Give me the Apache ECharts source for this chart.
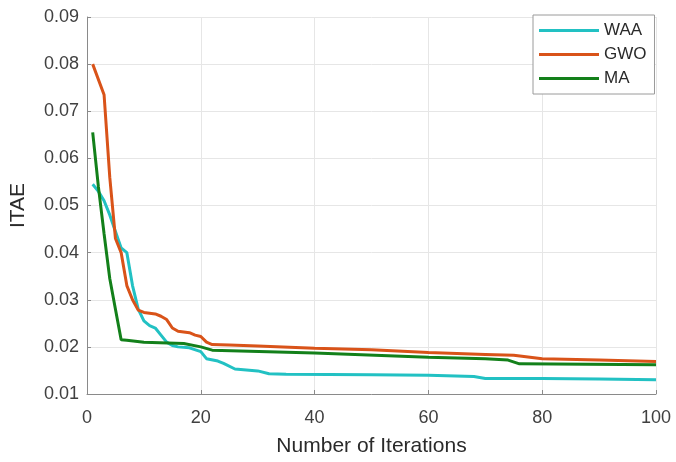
<!DOCTYPE html>
<html>
<head>
<meta charset="utf-8">
<script src="https://cdn.jsdelivr.net/npm/echarts@6/dist/echarts.min.js"></script>
<style>
  html, body { margin: 0; padding: 0; background: #fff; }
  #chart { width: 676px; height: 462px; }
</style>
</head>
<body>
<div id="chart"></div>
<script>
// breakpoints (iteration, ITAE)
const waaIter = [1, 2, 3, 4, 5, 6, 7, 8, 9, 10, 11, 12, 13, 14, 15, 16, 18, 20, 21, 23, 24, 26, 30, 32, 35, 50, 60, 68, 70, 80, 90, 100];
const waaVal = [0.0545, 0.053, 0.051, 0.048, 0.0445, 0.041, 0.040, 0.033, 0.028, 0.0255, 0.0245, 0.0240, 0.0225, 0.021, 0.0203, 0.0200, 0.0198, 0.0190, 0.0175, 0.0170, 0.0165, 0.0153, 0.0149, 0.0143, 0.0142, 0.0141, 0.0140, 0.0137, 0.0133, 0.0133, 0.0132, 0.0130];

const gwoIter = [1, 3, 4, 5, 6, 7, 8, 9, 10, 12, 13, 14, 15, 16, 18, 19, 20, 21, 22, 25, 30, 40, 50, 60, 70, 75, 80, 90, 100];
const gwoVal = [0.080, 0.0735, 0.056, 0.043, 0.040, 0.033, 0.030, 0.0278, 0.0273, 0.0270, 0.0265, 0.0258, 0.0240, 0.0233, 0.0230, 0.0225, 0.0222, 0.0210, 0.0205, 0.0204, 0.0202, 0.0197, 0.0194, 0.0188, 0.0184, 0.0182, 0.0175, 0.0172, 0.0169];

const maIter = [1, 2, 3, 4, 5, 6, 7, 10, 17, 20, 22, 40, 60, 70, 74, 76, 100];
const maVal = [0.0655, 0.054, 0.044, 0.0345, 0.028, 0.0215, 0.0214, 0.0210, 0.0207, 0.0200, 0.0193, 0.0187, 0.0178, 0.0175, 0.0172, 0.0164, 0.0162];

const xTicks = [0, 20, 40, 60, 80, 100];
const yTicks = [0.01, 0.02, 0.03, 0.04, 0.05, 0.06, 0.07, 0.08, 0.09];

const pairs = (xs, ys) => xs.map((x, i) => [x, ys[i]]);

const chart = echarts.init(document.getElementById("chart"));
const font = "'Liberation Sans', Arial, sans-serif";
const axisCommon = {
  axisLine: { show: true, lineStyle: { color: "#8a8a8a", width: 1 } },
  axisTick: { show: true, inside: true, length: 4, lineStyle: { color: "#8a8a8a" } },
  splitLine: { show: true, lineStyle: { color: "#e6e6e6", width: 1 } },
  axisLabel: { color: "#404040", fontSize: 18, fontFamily: font },
  nameTextStyle: { color: "#2a2a2a", fontSize: 21, fontFamily: font },
};

const line = (name, color, data) => ({
  name,
  type: "line",
  data,
  showSymbol: false,
  symbol: "none",
  lineStyle: { color, width: 3 },
  itemStyle: { color },
});

chart.setOption({
  animation: false,
  backgroundColor: "#fff",
  grid: { left: 84, right: 20, top: 17, bottom: 64 },
  legend: {
    orient: "vertical",
    left: 533,
    top: 15,
    padding: [7, 8, 7, 6],
    itemGap: 7,
    itemWidth: 60,
    itemHeight: 3,
    icon: "rect",
    backgroundColor: "#fff",
    borderColor: "#9a9a9a",
    borderWidth: 1,
    textStyle: { color: "#2a2a2a", fontSize: 17, fontFamily: font },
    data: ["WAA", "GWO", "MA"],
  },
  xAxis: Object.assign({}, axisCommon, {
    type: "value",
    min: xTicks[0],
    max: xTicks[xTicks.length - 1],
    interval: 20,
    name: "Number of Iterations",
    nameLocation: "middle",
    nameGap: 42,
    axisLabel: Object.assign({}, axisCommon.axisLabel, { margin: 15 }),
  }),
  yAxis: Object.assign({}, axisCommon, {
    type: "value",
    min: yTicks[0],
    max: yTicks[yTicks.length - 1],
    interval: 0.01,
    name: "ITAE",
    nameLocation: "middle",
    nameGap: 58,
    axisLabel: Object.assign({}, axisCommon.axisLabel, {
      margin: 8,
      formatter: (v) => v.toFixed(2),
    }),
  }),
  series: [
    line("WAA", "#22c1c3", pairs(waaIter, waaVal)),
    line("GWO", "#d95319", pairs(gwoIter, gwoVal)),
    line("MA", "#13801a", pairs(maIter, maVal)),
  ],
});
</script>
</body>
</html>
